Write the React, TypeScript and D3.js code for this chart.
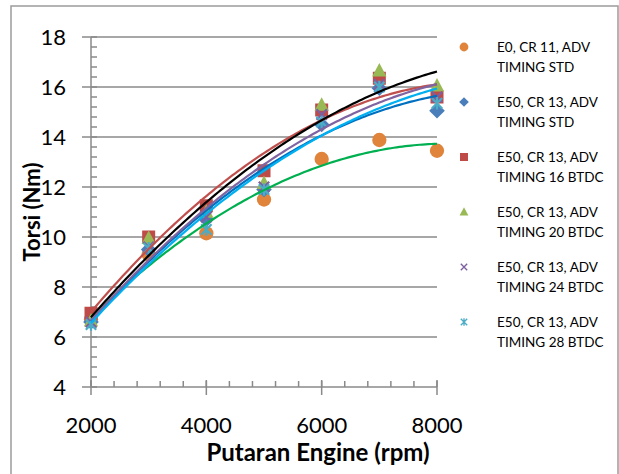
import React, { useEffect, useRef } from "react";
import * as d3 from "d3";

const RPM = [2000, 3000, 4000, 5000, 6000, 7000, 8000];
const E0_STD = [6.7, 9.3, 10.15, 11.5, 13.12, 13.88, 13.45];
const E50_STD = [6.6, 9.5, 10.7, 11.9, 14.5, 15.95, 15.05];
const E50_16 = [6.95, 10.0, 11.25, 12.65, 15.08, 16.35, 15.6];
const E50_20 = [6.65, 9.95, 11.0, 12.15, 15.28, 16.65, 16.05];
const E50_24 = [6.6, 9.6, 10.8, 12.0, 14.9, 16.1, 15.6];
const E50_28 = [6.5, 9.55, 10.3, 11.9, 14.6, 16.0, 15.35];

const LABELS = [
  ["E0, CR 11, ADV", "TIMING STD"],
  ["E50, CR 13, ADV", "TIMING STD"],
  ["E50, CR 13, ADV", "TIMING 16 BTDC"],
  ["E50, CR 13, ADV", "TIMING 20 BTDC"],
  ["E50, CR 13, ADV", "TIMING 24 BTDC"],
  ["E50, CR 13, ADV", "TIMING 28 BTDC"],
];
const X_TICKS = [2000, 4000, 6000, 8000];
const Y_TICKS = [4, 6, 8, 10, 12, 14, 16, 18];

const SERIES = [
  { values: E0_STD, shape: "circle", color: "#e0833b", trend: "#00b050" },
  { values: E50_STD, shape: "diamond", color: "#4a7ebb", trend: "#0070c0" },
  { values: E50_16, shape: "square", color: "#be4b48", trend: "#c0504d" },
  { values: E50_20, shape: "triangle", color: "#98b954", trend: "#000000" },
  { values: E50_24, shape: "x", color: "#7d5fa0", trend: "#8064a2" },
  { values: E50_28, shape: "star", color: "#4bacc6", trend: "#00b0f0" },
];

const FONT = "Lato, 'Open Sans', sans-serif";
const GRID = "#8a8a8a";

// least squares, 2nd order polynomial (Excel trendline)
function quadFit(xs: number[], ys: number[]) {
  const n = xs.length;
  const mx = d3.mean(xs) as number;
  const t = xs.map((x) => (x - mx) / 1000);
  let s1 = 0, s2 = 0, s3 = 0, s4 = 0, sy = 0, sty = 0, st2y = 0;
  t.forEach((v, i) => {
    s1 += v; s2 += v * v; s3 += v * v * v; s4 += v * v * v * v;
    sy += ys[i]; sty += v * ys[i]; st2y += v * v * ys[i];
  });
  // solve 3x3 normal equations
  const A = [
    [n, s1, s2, sy],
    [s1, s2, s3, sty],
    [s2, s3, s4, st2y],
  ];
  for (let i = 0; i < 3; i++) {
    for (let j = i + 1; j < 3; j++) {
      const f = A[j][i] / A[i][i];
      for (let k = i; k < 4; k++) A[j][k] -= f * A[i][k];
    }
  }
  const c = A[2][3] / A[2][2];
  const b = (A[1][3] - A[1][2] * c) / A[1][1];
  const a = (A[0][3] - A[0][1] * b - A[0][2] * c) / A[0][0];
  return (x: number) => {
    const v = (x - mx) / 1000;
    return a + b * v + c * v * v;
  };
}

function drawMarker(g: any, shape: string, cx: number, cy: number, s: number, color: string) {
  if (shape === "circle") {
    g.append("circle").attr("cx", cx).attr("cy", cy).attr("r", s * 0.55).attr("fill", color);
  } else if (shape === "diamond") {
    const r = s * 0.6;
    g.append("path")
      .attr("d", `M${cx},${cy - r}L${cx + r},${cy}L${cx},${cy + r}L${cx - r},${cy}Z`)
      .attr("fill", color);
  } else if (shape === "square") {
    g.append("rect")
      .attr("x", cx - s / 2).attr("y", cy - s / 2)
      .attr("width", s).attr("height", s)
      .attr("fill", color);
  } else if (shape === "triangle") {
    const h = s;
    g.append("path")
      .attr("d", `M${cx},${cy - h * 0.6}L${cx + h * 0.55},${cy + h * 0.45}L${cx - h * 0.55},${cy + h * 0.45}Z`)
      .attr("fill", color);
  } else {
    const r = s * 0.4;
    let d = `M${cx - r},${cy - r}L${cx + r},${cy + r}M${cx + r},${cy - r}L${cx - r},${cy + r}`;
    if (shape === "star") d += `M${cx},${cy - r * 1.2}L${cx},${cy + r * 1.2}`;
    g.append("path").attr("d", d).attr("stroke", color).attr("stroke-width", s * 0.17).attr("fill", "none");
  }
}

export default function App() {
  const ref = useRef<SVGSVGElement>(null);

  useEffect(() => {
    const svg = d3.select(ref.current);
    svg.selectAll("*").remove();

    const x = d3.scaleLinear().domain([2000, 8000]).range([91, 437]);
    const y = d3.scaleLinear().domain([4, 18]).range([387, 37]);

    // outer frame
    svg.append("rect")
      .attr("x", 11).attr("y", 6).attr("width", 607).attr("height", 480)
      .attr("fill", "white").attr("stroke", "#9c9c9c").attr("stroke-width", 1.5);

    // gridlines
    svg.append("g").selectAll("line").data(Y_TICKS.slice(1)).enter().append("line")
      .attr("x1", x(2000)).attr("x2", x(8000))
      .attr("y1", (d) => y(d)).attr("y2", (d) => y(d))
      .attr("stroke", GRID).attr("stroke-width", 1.5);

    const axis = svg.append("g").attr("stroke", GRID).attr("stroke-width", 1.5);
    axis.append("line").attr("x1", x(2000)).attr("x2", x(2000)).attr("y1", y(18)).attr("y2", y(4));
    axis.append("line").attr("x1", x(2000)).attr("x2", x(8000)).attr("y1", y(4)).attr("y2", y(4));

    // y ticks
    Y_TICKS.forEach((v) => {
      axis.append("line").attr("x1", x(2000) - 9).attr("x2", x(2000)).attr("y1", y(v)).attr("y2", y(v));
    });
    d3.range(4, 18.01, 0.4).forEach((v) => {
      axis.append("line").attr("x1", x(2000)).attr("x2", x(2000) + 6).attr("y1", y(v)).attr("y2", y(v));
    });
    // x ticks
    X_TICKS.forEach((v) => {
      axis.append("line").attr("x1", x(v)).attr("x2", x(v)).attr("y1", y(4) - 7).attr("y2", y(4) + 8);
    });
    d3.range(2000, 8001, 400).forEach((v) => {
      axis.append("line").attr("x1", x(v)).attr("x2", x(v)).attr("y1", y(4) - 6).attr("y2", y(4));
    });

    // tick labels
    svg.append("g").selectAll("text").data(Y_TICKS).enter().append("text")
      .attr("x", 66).attr("y", (d) => y(d)).attr("dy", "0.36em")
      .attr("text-anchor", "end").attr("font-family", FONT).attr("font-size", 22)
      .text((d) => d);
    svg.append("g").selectAll("text").data(X_TICKS).enter().append("text")
      .attr("x", (d) => x(d)).attr("y", 433)
      .attr("text-anchor", "middle").attr("font-family", FONT).attr("font-size", 22)
      .text((d) => d);

    // axis titles
    svg.append("text")
      .attr("transform", `translate(40,${(y(4) + y(18)) / 2}) rotate(-90)`)
      .attr("text-anchor", "middle").attr("font-family", FONT).attr("font-weight", "bold")
      .attr("font-size", 22).text("Torsi (Nm)");
    svg.append("text")
      .attr("x", 318).attr("y", 461)
      .attr("text-anchor", "middle").attr("font-family", FONT).attr("font-weight", "bold")
      .attr("font-size", 24).text("Putaran Engine (rpm)");

    // markers
    const marks = svg.append("g");
    SERIES.forEach((s) => {
      s.values.forEach((v, i) => drawMarker(marks, s.shape, x(RPM[i]), y(v), 13, s.color));
    });

    // polynomial trendlines
    const line = d3.line<number>().x((d) => x(d[0])).y((d) => y(d[1])).curve(d3.curveLinear);
    const xs = d3.range(2000, 8001, 50);
    SERIES.forEach((s) => {
      const f = quadFit(RPM, s.values);
      svg.append("path")
        .attr("d", line(xs.map((v) => [v, f(v)]) as any))
        .attr("fill", "none").attr("stroke", s.trend).attr("stroke-width", 2.2);
    });

    // legend
    const lg = svg.append("g");
    SERIES.forEach((s, i) => {
      const cy = 47 + i * 55;
      drawMarker(lg, s.shape, 464, cy, 8, s.color);
      LABELS[i].forEach((t, j) => {
        lg.append("text")
          .attr("x", 497).attr("y", cy + j * 20).attr("dy", "0.35em")
          .attr("font-family", FONT).attr("font-size", 13.5)
          .text(t);
      });
    });
  }, []);

  return (
    <svg
      ref={ref}
      width={619}
      height={474}
      style={{ position: "absolute", left: 0, top: 0, background: "white" }}
    />
  );
}
